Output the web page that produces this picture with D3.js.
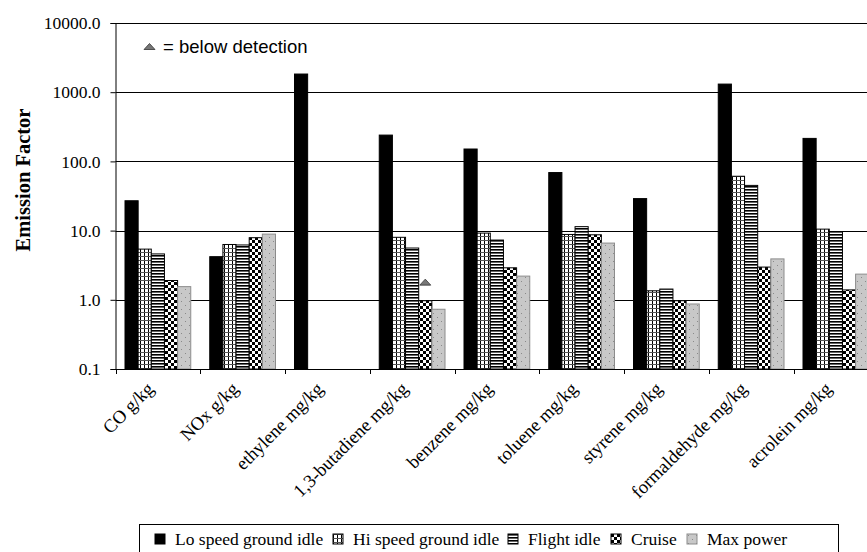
<!DOCTYPE html>
<html>
<head>
<meta charset="utf-8">
<script src="https://cdn.jsdelivr.net/npm/d3@7"></script>
<style>
  body { margin: 0; background: #fff; }
  svg { display: block; }
</style>
</head>
<body>
<svg id="chart" width="867" height="552"></svg>
<script>
// data
var categories = ["CO g/kg", "NOx g/kg", "ethylene mg/kg", "1,3-butadiene mg/kg", "benzene mg/kg",
                  "toluene mg/kg", "styrene mg/kg", "formaldehyde mg/kg", "acrolein mg/kg"];
var seriesNames = ["Lo speed ground idle", "Hi speed ground idle", "Flight idle", "Cruise", "Max power"];
var loIdle     = [27,  4.2, 1830, 240,  151, 69,   29,   1310, 215];
var hiIdle     = [5.4, 6.3, null, 8.0,  9.2, 8.8,  1.35, 61,   10.5];
var flightIdle = [4.6, 6.2, null, 5.6,  7.3, 11.4, 1.43, 45,   9.7];
var cruise     = [1.9, 7.9, null, 0.97, 2.9, 8.7,  0.97, 2.97, 1.39];
var maxPower   = [1.55, 8.9, null, 0.73, 2.2, 6.6, 0.87, 3.9,  2.35];
var belowDetection = [{cat: "1,3-butadiene mg/kg", series: "Cruise", value: 1.8}];
var yTicks = [0.1, 1, 10, 100, 1000, 10000];

var allSeries = [loIdle, hiIdle, flightIdle, cruise, maxPower];
var fills = ["#000", "url(#pGrid)", "url(#pHoriz)", "url(#pCheck)", "url(#pDots)"];
var strokes = ["#000", "#000", "#000", "#000", "#8c8c8c"];

var svg = d3.select("#chart");
var serif = "'Liberation Serif', 'Times New Roman', serif";

// patterns
var defs = svg.append("defs");
var pg = defs.append("pattern").attr("id", "pGrid").attr("patternUnits", "userSpaceOnUse")
    .attr("width", 4).attr("height", 4);
pg.append("rect").attr("width", 4).attr("height", 4).attr("fill", "#fff");
pg.append("rect").attr("x", 0).attr("y", 0).attr("width", 1).attr("height", 4).attr("fill", "#000");
pg.append("rect").attr("x", 0).attr("y", 0).attr("width", 4).attr("height", 1).attr("fill", "#555");

var ph = defs.append("pattern").attr("id", "pHoriz").attr("patternUnits", "userSpaceOnUse")
    .attr("width", 4).attr("height", 3);
ph.append("rect").attr("width", 4).attr("height", 3).attr("fill", "#fff");
ph.append("rect").attr("y", 0).attr("width", 4).attr("height", 1.6).attr("fill", "#000");

var pc = defs.append("pattern").attr("id", "pCheck").attr("patternUnits", "userSpaceOnUse")
    .attr("width", 6).attr("height", 6);
pc.append("rect").attr("width", 6).attr("height", 6).attr("fill", "#fff");
pc.append("rect").attr("x", 0).attr("y", 0).attr("width", 3).attr("height", 3).attr("fill", "#000");
pc.append("rect").attr("x", 3).attr("y", 3).attr("width", 3).attr("height", 3).attr("fill", "#000");

var pd = defs.append("pattern").attr("id", "pDots").attr("patternUnits", "userSpaceOnUse")
    .attr("width", 8).attr("height", 8);
pd.append("rect").attr("width", 8).attr("height", 8).attr("fill", "#c8c8c8");
pd.append("rect").attr("x", 1).attr("y", 1).attr("width", 1).attr("height", 1).attr("fill", "#8a8a8a");
pd.append("rect").attr("x", 5).attr("y", 5).attr("width", 1).attr("height", 1).attr("fill", "#8a8a8a");

// scales
var plotLeft = 115.5, plotTop = 23, plotBottom = 369;
var step = 84.75;
var x = d3.scaleBand().domain(categories).range([plotLeft, plotLeft + step * categories.length]).padding(0);
var xSub = d3.scaleBand().domain(seriesNames).range([9.5, x.bandwidth() - 9.5]).padding(0);
var y = d3.scaleLog().domain([0.1, 10000]).range([plotBottom, plotTop]);

// gridlines
svg.append("g").selectAll("line").data(yTicks.slice(1)).enter().append("line")
   .attr("x1", plotLeft).attr("x2", 867)
   .attr("y1", function(d) { return Math.round(y(d)) + 0.5; })
   .attr("y2", function(d) { return Math.round(y(d)) + 0.5; })
   .attr("stroke", "#000").attr("stroke-width", 1);

// bars
var records = [];
allSeries.forEach(function(vals, si) {
    vals.forEach(function(v, ci) {
        if (v != null) records.push({cat: categories[ci], s: si, value: v});
    });
});

svg.append("g").selectAll("rect").data(records).enter().append("rect")
   .attr("x", function(d) { return x(d.cat) + xSub(seriesNames[d.s]); })
   .attr("y", function(d) { return y(d.value); })
   .attr("width", xSub.bandwidth())
   .attr("height", function(d) { return plotBottom - y(d.value); })
   .attr("fill", function(d) { return fills[d.s]; })
   .attr("stroke", function(d) { return strokes[d.s]; })
   .attr("stroke-width", 1);

// below-detection markers
svg.append("g").selectAll("path").data(belowDetection).enter().append("path")
   .attr("d", function(d) {
        var cx = x(d.cat) + xSub(d.series) + xSub.bandwidth() / 2;
        var cy = y(d.value);
        return "M" + (cx - 5.5) + "," + (cy + 3) + "L" + cx + "," + (cy - 3) + "L" + (cx + 5.5) + "," + (cy + 3) + "Z";
   })
   .attr("fill", "#777").attr("stroke", "#333").attr("stroke-width", 0.8);

// y axis
var yAxis = d3.axisLeft(y).tickValues(yTicks).tickFormat(d3.format(".1f")).tickSizeOuter(0).tickSize(5).tickPadding(10);
var gy = svg.append("g").attr("transform", "translate(" + plotLeft + ",0)").call(yAxis);
gy.selectAll("text").attr("font-family", serif).attr("font-size", 17.5).attr("fill", "#000");
gy.selectAll("line, path").attr("stroke", "#000");

// x axis
var gx = svg.append("g");
gx.append("line").attr("x1", plotLeft).attr("x2", 867).attr("y1", plotBottom + 0.5).attr("y2", plotBottom + 0.5).attr("stroke", "#000");
gx.selectAll("line.tk").data(categories).enter().append("line").attr("class", "tk")
  .attr("x1", function(d) { return Math.round(x(d)) + 0.5; })
  .attr("x2", function(d) { return Math.round(x(d)) + 0.5; })
  .attr("y1", plotBottom).attr("y2", plotBottom + 5).attr("stroke", "#000");
gx.selectAll("text").data(categories).enter().append("text")
  .attr("transform", function(d) {
      return "translate(" + (x(d) + x.bandwidth() / 2 - 3) + "," + (plotBottom + 21) + ") rotate(-45)";
  })
  .attr("text-anchor", "end")
  .attr("font-family", serif).attr("font-size", 18.5)
  .text(function(d) { return d; });

// y title
svg.append("text")
   .attr("transform", "translate(30,180) rotate(-90)")
   .attr("text-anchor", "middle")
   .attr("font-family", serif).attr("font-size", 20.5).attr("font-weight", "bold")
   .text("Emission Factor");

// note
var note = svg.append("g").attr("transform", "translate(144,46)");
note.append("path").attr("d", "M0,3.5L5.5,-2.5L11,3.5Z").attr("fill", "#777").attr("stroke", "#333").attr("stroke-width", 0.8);
note.append("text").attr("x", 19).attr("y", 6.5).attr("font-family", "'Liberation Sans', Arial, sans-serif")
    .attr("font-size", 18.5).text("= below detection");

// legend
var legend = svg.append("g");
legend.append("rect").attr("x", 139.5).attr("y", 524.5).attr("width", 699).attr("height", 40)
      .attr("fill", "#fff").attr("stroke", "#000");
var legX = [155, 333, 508, 611, 687];
var li = legend.selectAll("g.item").data(seriesNames).enter().append("g").attr("class", "item")
      .attr("transform", function(d, i) { return "translate(" + legX[i] + ",534)"; });
li.append("rect").attr("width", 10).attr("height", 10)
  .attr("fill", function(d, i) { return fills[i]; })
  .attr("stroke", function(d, i) { return strokes[i]; });
li.append("text").attr("x", 20).attr("y", 11).attr("font-family", serif).attr("font-size", 17.5)
  .text(function(d) { return d; });
</script>
</body>
</html>
